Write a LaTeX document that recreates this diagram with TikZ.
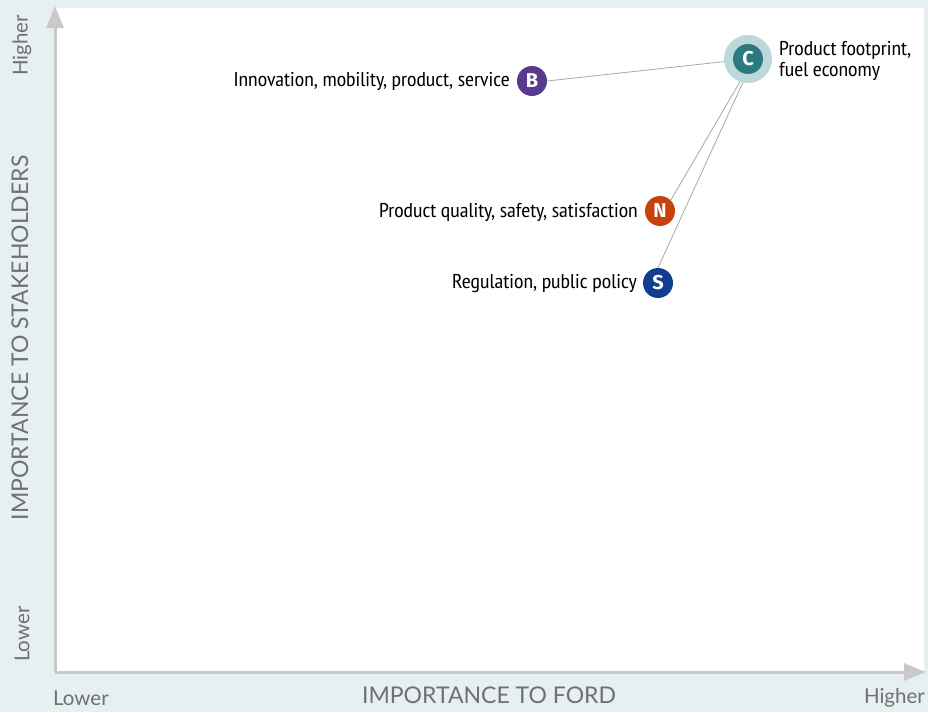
\documentclass[tikz,border=0pt]{standalone}
\usepackage{fontspec}
\setmainfont{PT Sans Narrow}[FakeStretch=1.09]
\newfontfamily\axisfont{Lato}
\newfontfamily\dotfont{Fira Sans}
\definecolor{bgc}{HTML}{E6EFF1}
\definecolor{axisc}{HTML}{C9C9C9}
\definecolor{axtext}{HTML}{707070}
\definecolor{tealc}{HTML}{2A7A80}
\definecolor{haloc}{HTML}{BCD8DB}
\definecolor{purplec}{HTML}{5A3A8C}
\definecolor{orangec}{HTML}{C8420E}
\definecolor{bluec}{HTML}{103D8E}
\definecolor{linkc}{HTML}{A8A8A8}
\usetikzlibrary{arrows.meta}
\begin{document}
\begin{tikzpicture}[x=1pt,y=-1pt,
  dot/.style={circle,minimum size=30pt,inner sep=0pt,text=white,font=\dotfont\fontsize{20}{20}\selectfont\bfseries},
  lbl/.style={font=\fontsize{20}{21}\selectfont,text=black,inner sep=0pt},
  axlbl/.style={font=\axisfont\fontsize{23}{24}\selectfont,text=axtext,inner sep=0pt},
  endlbl/.style={font=\axisfont\fontsize{20.5}{22}\selectfont,text=axtext,inner sep=0pt},
  link/.style={draw=linkc,line width=0.8pt},
  axis/.style={draw=axisc,line width=3pt,-{Triangle[length=22pt,width=17pt]}}]
\useasboundingbox (0,0) rectangle (928,712);
\fill[bgc] (0,0) rectangle (928,712);
\fill[white] (55,8) rectangle (924,671);
% axes
\coordinate (o) at (55,672);
\coordinate (ytip) at (55,6);
\coordinate (xtip) at (926,672);
\draw[axis] (o) -- (ytip);
\draw[axis] (o) -- (xtip);
% nodes
\node[dot,fill=purplec] (B) at (532,81) {B};
\node[dot,fill=orangec] (N) at (660,211) {N};
\node[dot,fill=bluec] (S) at (658,283) {S};
\coordinate (Cn) at (741,80);
\coordinate (Cs) at (744,80);
% links
\draw[link] (B.east) -- (748,59);
\draw[link] (N.north east) -- (Cn);
\draw[link] (S.north) -- (Cs);
% C node with halo
\node[circle,fill=haloc,minimum size=48pt,inner sep=0pt] (Ch) at (748,59) {};
\node[dot,fill=tealc,minimum size=30pt] (C) at (748,59) {C};
% labels
\node[lbl,anchor=east] (Bl) at (510,81) {Innovation, mobility, product, service};
\node[lbl,anchor=east] (Nl) at (638,212) {Product quality, safety, satisfaction};
\node[lbl,anchor=east] (Sl) at (637,284) {Regulation, public policy};
\node[lbl,anchor=west,align=left,font=\fontsize{20}{21}\selectfont] (Cl) at (779,61) {Product footprint,\\fuel economy};
% axis labels
\node[axlbl] (xl) at (489,695) {IMPORTANCE TO FORD};
\node[axlbl,rotate=90] (yl) at (20,338) {IMPORTANCE TO STAKEHOLDERS};
\node[endlbl,anchor=west] (xlo) at (53,698) {Lower};
\node[endlbl,anchor=east] (xhi) at (925,698) {Higher};
\node[endlbl,rotate=90,anchor=west] (ylo) at (22,662) {Lower};
\node[endlbl,rotate=90,anchor=west] (yhi) at (22,76) {Higher};
\end{tikzpicture}
\end{document}
